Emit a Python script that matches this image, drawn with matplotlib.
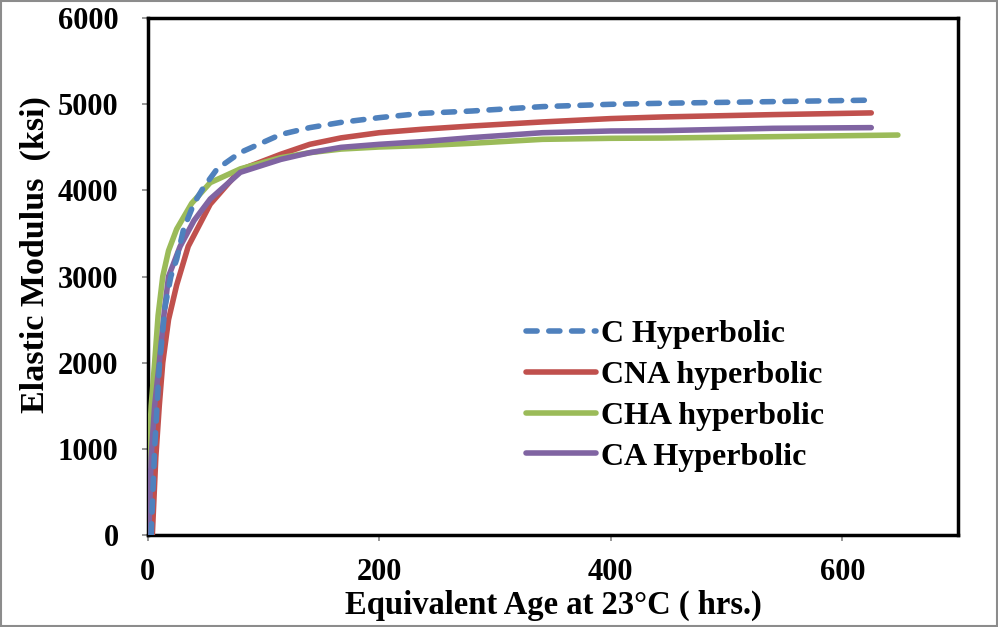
import matplotlib
matplotlib.use("Agg")
import matplotlib.pyplot as plt
from matplotlib.patches import Rectangle

plt.rcParams["font.family"] = ["Liberation Serif", "DejaVu Serif"]
plt.rcParams["font.weight"] = "bold"

# Values (equivalent age in hrs, modulus in ksi)
C_AGE = [3, 6, 10, 15, 20, 25, 31, 40, 48, 60, 80, 115, 140, 167, 200, 237, 280, 341, 400, 445, 540, 619]
C_E = [0, 1000, 1950, 2650, 3000, 3200, 3550, 3850, 4030, 4250, 4440, 4650, 4729, 4790, 4845, 4895,
       4922, 4973, 5000, 5012, 5031, 5047]

CNA_AGE = [4, 7, 10, 13, 18, 25, 35, 54, 80, 115, 140, 167, 200, 237, 280, 341, 400, 445, 540, 625]
CNA_E = [0, 900, 1500, 2000, 2500, 2900, 3350, 3840, 4240, 4420, 4535, 4610, 4670, 4710, 4748,
         4795, 4834, 4853, 4880, 4900]

CHA_AGE = [0.5, 3, 6, 9, 13, 18, 25, 38, 54, 80, 115, 140, 167, 200, 237, 280, 341, 400, 445, 540, 648]
CHA_E = [800, 1500, 2000, 2550, 3000, 3300, 3550, 3850, 4090, 4250, 4380, 4438, 4480, 4504, 4520,
         4547, 4593, 4605, 4608, 4624, 4643]

CA_AGE = [1, 3, 6, 10, 14, 18, 28, 40, 54, 80, 115, 140, 167, 200, 237, 280, 341, 400, 445, 540, 625]
CA_E = [0, 900, 1500, 2000, 2550, 3000, 3350, 3650, 3900, 4210, 4360, 4438, 4500, 4535, 4566,
        4613, 4670, 4690, 4694, 4721, 4729]

C_BLUE = "#4F81BD"
C_RED = "#C0504D"
C_GREEN = "#9BBB59"
C_PURPLE = "#8064A2"

LW = 4.0

fig = plt.figure(figsize=(9.98, 6.27), dpi=100)
ax = fig.add_axes([0.148, 0.147, 0.812, 0.824])

ax.plot(C_AGE, C_E, color=C_BLUE, lw=LW, dashes=(2.0, 2.1),
        dash_capstyle="round", label="C Hyperbolic", zorder=5)
ax.plot(CNA_AGE, CNA_E, color=C_RED, lw=LW, solid_capstyle="round",
        solid_joinstyle="round", label="CNA hyperbolic", zorder=3)
ax.plot(CHA_AGE, CHA_E, color=C_GREEN, lw=LW, solid_capstyle="round",
        solid_joinstyle="round", label="CHA hyperbolic", zorder=4)
ax.plot(CA_AGE, CA_E, color=C_PURPLE, lw=LW, solid_capstyle="round",
        solid_joinstyle="round", label="CA Hyperbolic", zorder=4)

ax.set_xlim(0, 700)
ax.set_ylim(0, 6000)
ax.set_xticks([0, 200, 400, 600])
ax.set_yticks(range(0, 6001, 1000))

for s in ax.spines.values():
    s.set_color("black")
    s.set_linewidth(2.5)

ax.tick_params(axis="both", direction="out", length=4, width=1.2, color="#868686",
               labelsize=22, pad=17)
ax.tick_params(axis="x", pad=13)
for lab in ax.get_xticklabels() + ax.get_yticklabels():
    lab.set_fontweight("bold")

ax.set_xlabel("Equivalent Age at 23°C ( hrs.)", fontsize=23.5, fontweight="bold", labelpad=2)
ax.set_ylabel("Elastic Modulus  (ksi)", fontsize=24.5, fontweight="bold")
ax.yaxis.set_label_coords(-0.119, 0.543)

ax.legend(loc="upper left", bbox_to_anchor=(0.498, 0.536), bbox_transform=fig.transFigure,
          frameon=False, prop={"size": 23, "weight": "bold"},
          handlelength=2.2, handletextpad=0.15, labelspacing=0.36)

fig.patches.append(Rectangle((0.001, 0.0015), 0.998, 0.997, transform=fig.transFigure,
                             fill=False, edgecolor="#8c8c8c", lw=1.5))

fig.savefig("out.png", dpi=100)
